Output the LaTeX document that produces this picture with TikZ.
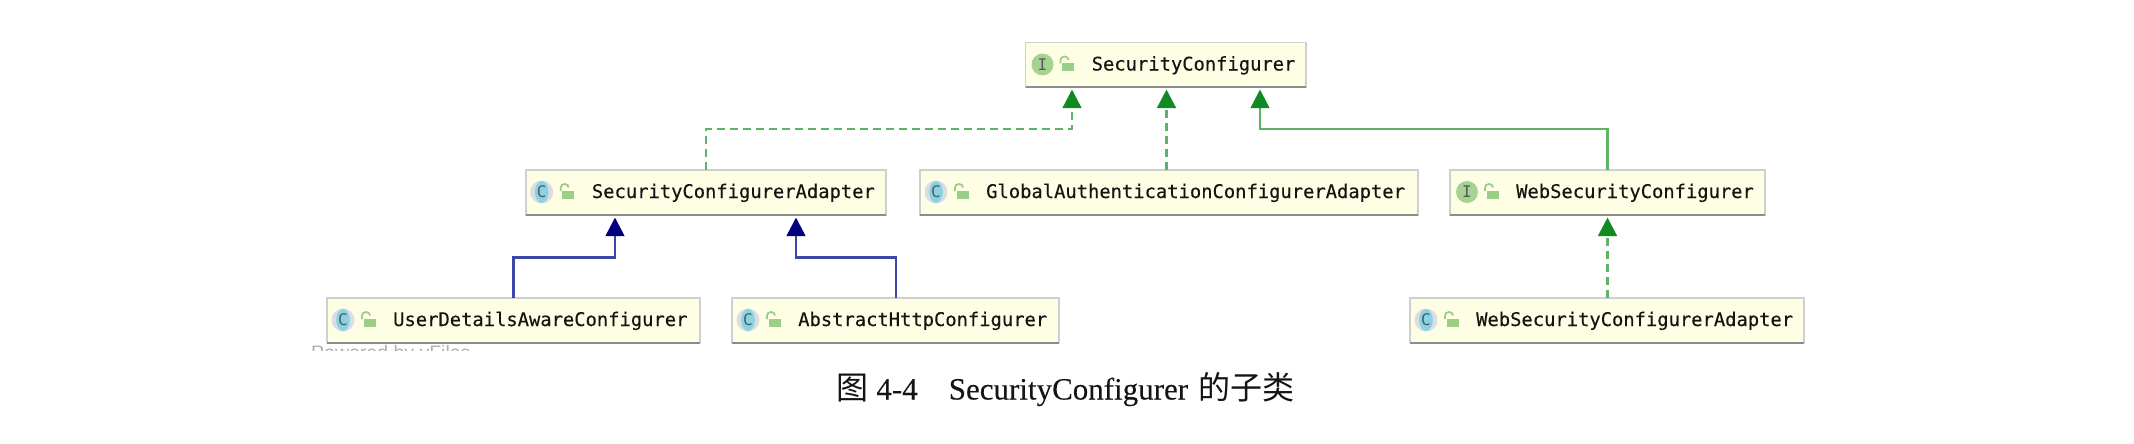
\documentclass[tikz,border=0pt]{standalone}
\usepackage{fontspec}
\setmainfont[FakeBold=0.12]{Liberation Serif}
\newfontfamily\umlfont[FakeBold=0.25]{DejaVu Sans Mono}
\newfontfamily\iconfont{DejaVu Sans Mono}
\newfontfamily\markfont{Liberation Sans}
\newfontfamily\cjkfont{Noto Sans CJK SC}
\usetikzlibrary{arrows.meta,calc}
\definecolor{boxfill}{HTML}{FEFEE4}
\definecolor{boxedge}{HTML}{CFCFCF}
\definecolor{boxshade}{HTML}{8C8C8C}
\definecolor{implgreen}{HTML}{128A22}
\definecolor{implline}{HTML}{5DB465}
\definecolor{extblue}{HTML}{00007F}
\definecolor{extline}{HTML}{3D46AA}
\definecolor{ifacegreen}{HTML}{A6D392}
\definecolor{classcyan}{HTML}{86D3E3}
\definecolor{classrim}{HTML}{DCDDE3}
\definecolor{lockgreen}{HTML}{9BCF88}
\tikzset{
  umlbox/.style={draw=boxedge,line width=1.6pt,fill=boxfill,inner sep=0pt,outer sep=0pt},
  umlshade/.style={draw=boxshade,line width=2pt},
  umltext/.style={font=\umlfont\fontsize{18.8}{22}\selectfont,text=black!92,inner sep=0pt,anchor=base west},
  iconletter/.style={font=\iconfont\fontsize{16}{18}\selectfont,text=black!65,inner sep=0pt},
  implsolid/.style={draw=implline,line width=2.4pt,-{Triangle[length=18.5pt,width=18.5pt,color=implgreen]}},
  impldash/.style={implsolid,dash pattern=on 8pt off 5pt},
  extsolid/.style={draw=extline,line width=2.6pt,-{Triangle[length=18.5pt,width=18.5pt,color=extblue]}},
}
\newcommand{\padlock}[1]{%
  \fill[lockgreen] ([shift={(-4.5,-1.5)}]#1) rectangle ([shift={(7.5,6.5)}]#1);
  \draw[lockgreen,line width=1.8pt] ([shift={(-6,-1)}]#1) -- ([shift={(-6,-4.5)}]#1) arc[start angle=180,end angle=0,x radius=4pt,y radius=3.5pt];
}
\newcommand{\umlbody}[6]{% name x0 y0 x1 y1 text
  \pgfmathsetmacro{\bw}{#4-#2}\pgfmathsetmacro{\bh}{#5-#3}
  \pgfmathsetmacro{\bx}{(#4+#2)/2}\pgfmathsetmacro{\by}{(#5+#3)/2}
  \node[umlbox,minimum width=\bw pt,minimum height=\bh pt] (#1) at (\bx,\by) {};
  \draw[umlshade] (#1.south west) -- (#1.south east);
  \node[umltext] (#1-t) at ([shift={(66,28)}]#1.north west) {#6};
  \coordinate (#1-l) at ([shift={(41,22)}]#1.north west);
  \padlock{#1-l}
}
\newcommand{\umliface}[6]{%
  \umlbody{#1}{#2}{#3}{#4}{#5}{#6}
  \fill[ifacegreen] ([shift={(17,22)}]#1.north west) circle[radius=11pt];
  \node[iconletter] (#1-i) at ([shift={(17,22)}]#1.north west) {I};
}
\newcommand{\umlclass}[6]{%
  \umlbody{#1}{#2}{#3}{#4}{#5}{#6}
  \fill[classrim] ([shift={(16,22)}]#1.north west) circle[radius=11.5pt];
  \fill[classcyan] ([shift={(16,22)}]#1.north west) ellipse[x radius=6.8pt,y radius=11pt];
  \node[iconletter] (#1-i) at ([shift={(16,22)}]#1.north west) {C};
}
\begin{document}
\begin{tikzpicture}[x=1pt,y=-1pt]
\useasboundingbox (0,0) rectangle (2134,444);
\fill[white] (0,0) rectangle (2134,444);

\begin{scope}
  \clip (300,340) rectangle (490,350.5);
  \node[font=\markfont\fontsize{19.5}{22}\selectfont,text=black!30,inner sep=0pt,anchor=base west] (mark) at (311,359) {Powered by yFiles};
\end{scope}

\umliface{top}{1025.5}{42.5}{1306}{87}{SecurityConfigurer}
\umlclass{sca}{525.7}{170}{886}{215}{SecurityConfigurerAdapter}
\umlclass{gac}{920}{170}{1418}{215}{GlobalAuthenticationConfigurerAdapter}
\umliface{wsc}{1450}{170}{1765}{215}{WebSecurityConfigurer}
\umlclass{uda}{327}{298}{700}{342.5}{UserDetailsAwareConfigurer}
\umlclass{ahc}{732}{298}{1059}{342.5}{AbstractHttpConfigurer}
\umlclass{wsa}{1410}{298}{1804}{342.5}{WebSecurityConfigurerAdapter}

\coordinate (upbus) at (0,129);
\coordinate (lowbus) at (0,257.7);
\coordinate (top-a) at ([shift={(46.5,2.5)}]top.south west);
\coordinate (top-b) at ([shift={(141,2.5)}]top.south west);
\coordinate (top-c) at ([shift={(234.5,2.5)}]top.south west);
\coordinate (sca-a) at ([shift={(89.3,2.5)}]sca.south west);
\coordinate (sca-b) at ([shift={(270.3,2.5)}]sca.south west);
\coordinate (sca-up) at ([xshift=180.3pt]sca.north west);
\coordinate (wsc-up) at ([xshift=157.5pt]wsc.north west);
\coordinate (wsc-dn) at ([shift={(157.5,2.5)}]wsc.south west);

\draw[impldash] (sca-up) -- (sca-up |- upbus) -- (upbus -| top-a) -- (top-a);
\draw[impldash,line width=3pt] (gac.north -| top-b) -- (top-b);
\draw[implsolid] (wsc-up) -- (wsc-up |- upbus) -- (upbus -| top-c) -- (top-c);
\draw[impldash,line width=3pt] (wsa.north -| wsc-dn) -- (wsc-dn);
\draw[extsolid] ([xshift=186.5pt]uda.north west) -- ++(0,-40.3) -- (lowbus -| sca-a) -- (sca-a);
\draw[extsolid] ([xshift=164pt]ahc.north west) -- ++(0,-40.3) -- (lowbus -| sca-b) -- (sca-b);

\node[font=\fontsize{31}{34}\selectfont,text=black!92,inner sep=0pt,anchor=base west] (caption) at (836.5,399.5)
  {{\cjkfont\fontsize{32}{34}\selectfont 图}~4-4\hspace{31pt}SecurityConfigurer\hspace{10pt}{\cjkfont\fontsize{32}{34}\selectfont 的子类}};
\end{tikzpicture}
\end{document}
